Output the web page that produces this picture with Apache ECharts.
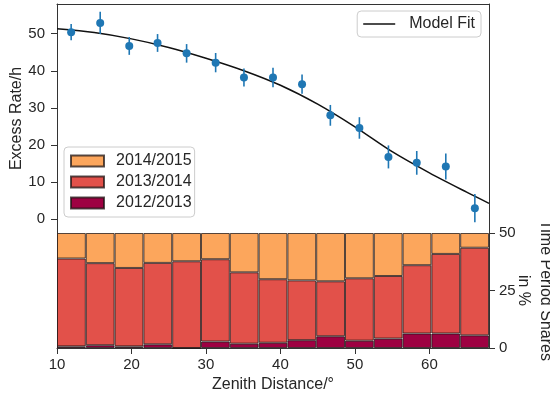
<!DOCTYPE html>
<html>
<head>
<meta charset="utf-8">
<script src="https://cdn.jsdelivr.net/npm/echarts@6/dist/echarts.min.js"></script>
<style>
  html, body { margin: 0; padding: 0; background: #fff; }
  #chart { width: 550px; height: 399px; }
</style>
</head>
<body>
<div id="chart"></div>
<script>
// zenith distance bin centres (deg)
const zenith = [11.9, 15.8, 19.7, 23.5, 27.4, 31.3, 35.1, 39.0, 42.9, 46.7, 50.6, 54.5, 58.3, 62.2, 66.1];
// excess rate per hour and its error
const rate = [50.4, 52.9, 46.7, 47.5, 44.7, 42.2, 38.2, 38.2, 36.4, 28.0, 24.6, 16.8, 15.2, 14.2, 3.0];
const rateErr = [2.2, 3.0, 2.4, 2.4, 2.5, 2.6, 2.4, 2.6, 2.6, 2.8, 2.9, 3.1, 3.2, 3.5, 3.8];
// model fit
const fitX = [10, 15, 20, 25, 30, 35, 40, 45, 50, 55, 60, 65, 68];
const fitY = [51.3, 50.3, 48.6, 46.3, 43.4, 40.1, 36.1, 31.0, 24.9, 18.2, 12.5, 7.3, 4.3];
// time period shares
const share1213 = [0.7, 1.2, 0.7, 1.6, 0, 2.8, 1.9, 2.3, 3.4, 5.1, 3.2, 4.1, 6.3, 6.3, 5.5];
const share1314 = [38.2, 35.7, 34.1, 35.4, 37.7, 35.8, 31.0, 27.6, 26.0, 23.9, 27.1, 27.2, 29.7, 34.6, 38.1];
const share1415 = [11.1, 13.1, 15.2, 13.0, 12.3, 11.4, 17.1, 20.1, 20.6, 21.0, 19.7, 18.7, 14.0, 9.1, 6.4];
const xTicks = [10, 20, 30, 40, 50, 60];
const rateTicks = [0, 10, 20, 30, 40, 50];

const font = "Liberation Sans, Arial, sans-serif";
const axisCol = "#333";
const textCol = "#262626";

let myChart = echarts.init(document.getElementById("chart"));

const spineOnly = {
  axisLine: { show: true, onZero: false, lineStyle: { color: axisCol, width: 1 } },
  axisTick: { show: false },
  axisLabel: { show: false },
  splitLine: { show: false },
};

myChart.setOption({
  animation: false,
  textStyle: { fontFamily: font },
  grid: [
    { left: 57, right: 61, top: 4, height: 229, containLabel: false, outerBoundsMode: "none" },
    { left: 57, right: 61, top: 233, height: 115, containLabel: false, outerBoundsMode: "none" },
  ],
  legend: [
    {
      data: [{ name: "Model Fit", icon: "rect" }],
      right: 69,
      top: 11,
      orient: "vertical",
      itemWidth: 32,
      itemHeight: 1.6,
      padding: [5, 6, 5, 6],
      backgroundColor: "#fff",
      borderColor: "#ccc",
      borderWidth: 1,
      borderRadius: 4,
      textStyle: { fontSize: 16, color: textCol, fontFamily: font, padding: [0, 0, 0, 9] },
    },
    {
      data: ["2014/2015", "2013/2014", "2012/2013"],
      left: 64,
      top: 147,
      orient: "vertical",
      icon: "rect",
      itemWidth: 33,
      itemHeight: 11,
      itemGap: 5,
      padding: [6, 3, 6, 6],
      backgroundColor: "#fff",
      borderColor: "#ccc",
      borderWidth: 1,
      borderRadius: 4,
      textStyle: { fontSize: 16, color: textCol, fontFamily: font, padding: [0, 0, 0, 7] },
    },
  ],
  xAxis: [
    Object.assign({ type: "value", gridIndex: 0, min: 10, max: 68, position: "top" }, spineOnly),
    {
      type: "category",
      gridIndex: 1,
      data: zenith,
      show: false,
      boundaryGap: true,
    },
    {
      type: "value",
      gridIndex: 1,
      min: 10,
      max: 68,
      position: "bottom",
      name: "Zenith Distance/°",
      nameLocation: "middle",
      nameGap: 29,
      nameMoveOverlap: false,
      nameTextStyle: { fontSize: 16, color: textCol, fontFamily: font },
      axisLine: { show: true, onZero: false, lineStyle: { color: axisCol } },
      axisTick: { show: true, length: 6, customValues: xTicks, lineStyle: { color: axisCol } },
      axisLabel: { show: true, customValues: xTicks, fontSize: 15, color: textCol, margin: 9 },
      splitLine: { show: false },
    },
  ],
  yAxis: [
    {
      type: "value",
      gridIndex: 0,
      min: -3.7,
      max: 58,
      position: "left",
      name: "Excess Rate/h",
      nameLocation: "middle",
      nameGap: 32,
      nameMoveOverlap: false,
      nameTextStyle: { fontSize: 16, color: textCol, fontFamily: font },
      axisLine: { show: true, onZero: false, lineStyle: { color: axisCol } },
      axisTick: { show: true, length: 6, customValues: rateTicks, lineStyle: { color: axisCol } },
      axisLabel: { show: true, customValues: rateTicks, fontSize: 15, color: textCol, margin: 12 },
      splitLine: { show: false },
    },
    Object.assign({ type: "value", gridIndex: 0, min: -3.7, max: 58, position: "right" }, spineOnly),
    {
      type: "value",
      gridIndex: 1,
      min: 0,
      max: 50,
      interval: 25,
      position: "right",
      name: "Time Period Shares\nin %",
      nameLocation: "middle",
      nameRotate: -90,
      nameGap: 23,
      nameMoveOverlap: false,
      nameTextStyle: { fontSize: 16, color: textCol, fontFamily: font, lineHeight: 22 },
      axisLine: { show: true, onZero: false, lineStyle: { color: axisCol } },
      axisTick: { show: true, length: 6, lineStyle: { color: axisCol } },
      axisLabel: { show: true, fontSize: 15, color: textCol, margin: 10 },
      splitLine: { show: false },
    },
    Object.assign({ type: "value", gridIndex: 1, min: 0, max: 50, position: "left" }, spineOnly),
  ],
  series: [
    {
      name: "Model Fit",
      type: "line",
      xAxisIndex: 0,
      yAxisIndex: 0,
      data: fitX.map((x, i) => [x, fitY[i]]),
      smooth: 0.3,
      symbol: "none",
      lineStyle: { color: "#111", width: 1.5 },
      itemStyle: { color: "#111" },
      z: 3,
    },
    {
      name: "errors",
      type: "custom",
      xAxisIndex: 0,
      yAxisIndex: 0,
      data: zenith.map((x, i) => [x, rate[i] - rateErr[i], rate[i] + rateErr[i]]),
      renderItem: function (params, api) {
        let lo = api.coord([api.value(0), api.value(1)]);
        let hi = api.coord([api.value(0), api.value(2)]);
        return {
          type: "line",
          shape: { x1: lo[0], y1: lo[1], x2: hi[0], y2: hi[1] },
          style: { stroke: "#1f77b4", lineWidth: 1.6 },
        };
      },
      z: 4,
    },
    {
      name: "rate",
      type: "scatter",
      xAxisIndex: 0,
      yAxisIndex: 0,
      data: zenith.map((x, i) => [x, rate[i]]),
      symbolSize: 8,
      itemStyle: { color: "#1f77b4", opacity: 1 },
      z: 5,
    },
    {
      name: "2012/2013",
      type: "bar",
      stack: "share",
      xAxisIndex: 1,
      yAxisIndex: 2,
      data: share1213,
      barWidth: "100%",
      itemStyle: { color: "#9e0142", borderColor: "rgba(30,20,20,0.75)", borderWidth: 1 },
    },
    {
      name: "2013/2014",
      type: "bar",
      stack: "share",
      xAxisIndex: 1,
      yAxisIndex: 2,
      data: share1314,
      barWidth: "100%",
      itemStyle: { color: "#e2514a", borderColor: "rgba(30,20,20,0.75)", borderWidth: 1 },
    },
    {
      name: "2014/2015",
      type: "bar",
      stack: "share",
      xAxisIndex: 1,
      yAxisIndex: 2,
      data: share1415,
      barWidth: "100%",
      itemStyle: { color: "#fca65c", borderColor: "rgba(30,20,20,0.75)", borderWidth: 1 },
    },
  ],
});
window.addEventListener("resize", function () {
  myChart.resize();
});
</script>
</body>
</html>
